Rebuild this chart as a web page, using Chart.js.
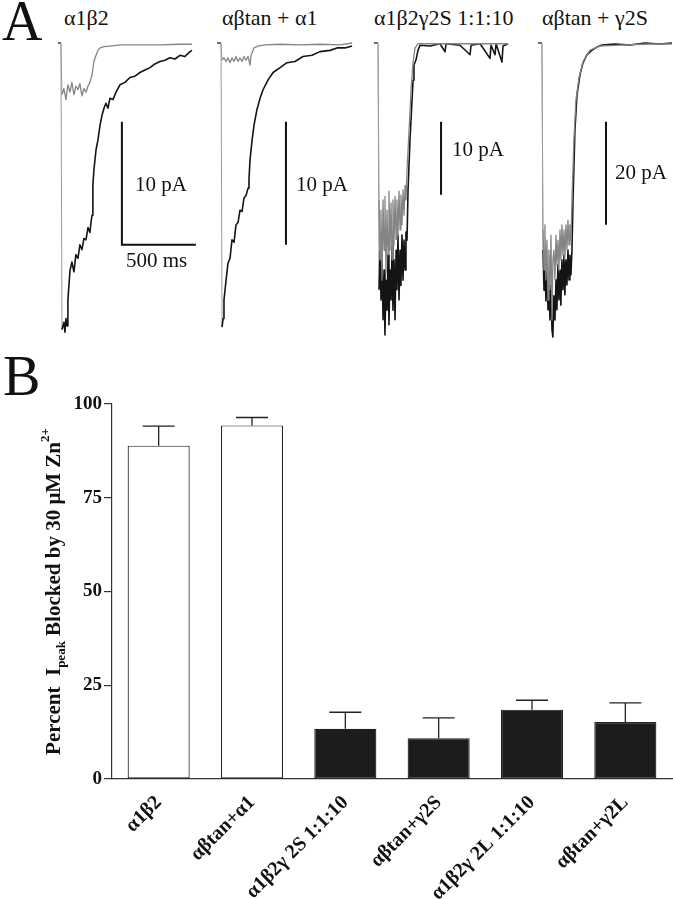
<!DOCTYPE html>
<html>
<head>
<meta charset="utf-8">
<script src="https://cdn.jsdelivr.net/npm/chart.js@4/dist/chart.umd.min.js"></script>
<style>
  body { margin: 0; background: #fff; }
  #page { position: relative; width: 673px; height: 899px; overflow: hidden; background: #fff; }
  #page canvas { position: absolute; }
  .lbl { position: absolute; font-family: "Liberation Serif", "Times New Roman", serif; color: #111; white-space: nowrap; line-height: 1; }
</style>
</head>
<body>
<div id="page">
  <canvas id="tr1"></canvas>
  <canvas id="tr2"></canvas>
  <canvas id="tr3"></canvas>
  <canvas id="tr4"></canvas>
  <canvas id="bars"></canvas>
</div>
<script>
// ---- panel A: current traces, [time ms, current pA] ----
const trace1Black = [[-20,0],[0,0],[7,-23.3],[20,-22.7],[27,-23.5],[34,-22.4],[41,-23.0],[47,-20.9],[61,-18.5],[74,-17.8],[88,-18.6],[101,-17.2],[115,-17.5],[128,-16.4],[142,-16.8],[155,-15.9],[169,-16.0],[183,-15.0],[196,-15.4],[203,-14.6],[210,-14.0],[216,-11.5],[223,-10.3],[237,-8.7],[250,-7.9],[264,-6.7],[277,-5.9],[291,-5.3],[304,-4.9],[318,-5.3],[331,-4.5],[352,-4.6],[372,-4.0],[399,-3.4],[433,-3.2],[466,-2.8],[500,-2.7],[534,-2.4],[568,-2.2],[602,-2.0],[635,-1.7],[669,-1.5],[703,-1.4],[737,-1.2],[771,-1.3],[804,-1.0],[838,-1.1],[872,-0.7],[886,-0.6]];
const trace1Gray = [[-20,0],[0,0],[7,-4.2],[20,-3.7],[34,-4.6],[47,-3.4],[61,-4.0],[74,-3.2],[88,-4.2],[101,-3.5],[115,-3.8],[128,-3.3],[142,-4.3],[155,-3.7],[169,-4.0],[183,-3.5],[196,-3.2],[210,-2.6],[223,-1.5],[237,-1.0],[250,-0.6],[264,-0.4],[291,-0.3],[331,-0.25],[399,-0.15],[534,-0.15],[669,-0.15],[804,-0.1],[886,-0.1]];

const trace2Black = [[-27,0],[0,0],[7,-23.1],[14,-22.4],[20,-20.9],[27,-20.1],[34,-19.3],[47,-17.9],[61,-17.5],[74,-16.0],[88,-16.2],[101,-14.8],[115,-14.6],[128,-13.6],[142,-13.7],[155,-12.6],[169,-12.4],[183,-11.8],[189,-11.1],[196,-9.5],[210,-7.9],[223,-6.7],[243,-5.4],[264,-4.5],[284,-3.8],[318,-3.0],[352,-2.4],[399,-2.0],[446,-1.6],[500,-1.5],[554,-1.1],[615,-1.0],[669,-0.7],[737,-0.6],[784,-0.4],[838,-0.4],[886,-0.25]];
const trace2Gray = [[-27,0],[0,0],[7,-1.4],[20,-1.2],[34,-1.5],[47,-1.2],[61,-1.6],[74,-1.2],[88,-1.5],[101,-1.1],[115,-1.5],[128,-1.2],[142,-1.5],[155,-1.1],[169,-1.4],[183,-1.1],[196,-1.8],[203,-1.0],[223,-0.4],[250,-0.25],[297,-0.15],[399,-0.1],[534,-0.15],[669,-0.1],[804,-0.15],[886,0]];

const trace3Black = [[-27,0],[0,0],[7,-33.8],[14,-28.4],[20,-35.2],[27,-29.7],[34,-37.9],[41,-31.1],[47,-40.0],[54,-32.5],[61,-36.6],[68,-29.0],[74,-38.6],[81,-31.1],[88,-35.2],[95,-27.7],[101,-36.6],[108,-29.7],[115,-37.9],[122,-28.4],[128,-33.8],[135,-26.3],[142,-35.2],[149,-28.4],[155,-33.2],[162,-26.3],[169,-32.5],[176,-27.0],[183,-31.1],[189,-25.9],[196,-27.0],[203,-20.1],[216,-13.3],[230,-7.8],[237,-5.1],[243,-3.0],[257,-2.3],[270,-1.0],[284,-0.3],[352,-0.4],[419,-0.1],[453,-1.2],[460,-0.1],[554,-0.3],[622,-1.6],[629,-0.3],[690,-0.1],[757,-2.1],[764,-0.3],[791,-1.6],[798,-0.1],[838,-2.6],[845,-0.4],[879,-0.1]];
const trace3Gray = [[-27,0],[0,0],[7,-21.5],[14,-29.7],[20,-22.9],[27,-32.5],[34,-21.5],[41,-28.4],[47,-21.0],[54,-31.5],[61,-22.9],[68,-29.0],[74,-20.3],[81,-28.4],[88,-21.9],[95,-29.7],[101,-21.5],[108,-27.7],[115,-21.0],[122,-26.9],[128,-21.5],[135,-26.3],[142,-20.3],[149,-25.6],[155,-20.8],[162,-24.9],[169,-20.1],[176,-23.6],[183,-19.5],[189,-21.5],[196,-17.4],[210,-11.9],[223,-6.4],[237,-2.6],[250,-0.7],[270,-0.1],[419,-0.1],[622,-0.1],[879,-0.1]];

const trace4Black = [[-27,0],[0,0],[7,-40.2],[14,-48.0],[20,-42.1],[27,-50.1],[34,-44.0],[41,-51.8],[47,-45.0],[54,-53.8],[61,-47.0],[68,-55.7],[74,-57.1],[81,-49.1],[88,-53.8],[95,-46.0],[101,-51.8],[108,-43.1],[115,-49.9],[122,-44.1],[128,-50.9],[135,-42.1],[142,-47.9],[149,-41.2],[155,-48.9],[162,-42.1],[169,-47.0],[176,-40.2],[183,-46.0],[189,-41.2],[196,-45.0],[203,-40.2],[210,-30.5],[223,-16.9],[237,-10.1],[257,-6.2],[277,-3.9],[304,-2.3],[338,-1.4],[372,-0.8],[406,-0.4],[494,-0.2],[595,-0.4],[697,0],[798,-0.2],[879,0]];
const trace4Gray = [[-27,0],[0,0],[7,-36.3],[14,-44.1],[20,-35.3],[27,-46.0],[34,-38.3],[41,-49.9],[47,-40.2],[54,-47.9],[61,-37.3],[68,-53.8],[74,-42.1],[81,-40.2],[88,-46.0],[95,-37.3],[101,-43.1],[108,-38.3],[115,-44.1],[122,-36.3],[128,-42.1],[135,-35.3],[142,-41.2],[149,-36.3],[155,-42.1],[162,-35.3],[169,-40.2],[176,-34.4],[183,-39.2],[189,-35.3],[196,-38.3],[203,-30.5],[216,-18.8],[230,-11.1],[250,-6.8],[277,-3.7],[325,-1.4],[392,-0.6],[527,-0.4],[730,-0.2],[879,-0.2]];

const traceTitles = ['α1β2', 'αβtan + α1', 'α1β2γ2S 1:1:10', 'αβtan + γ2S'];
const scaleBarPA = [10, 10, 10, 20];

// ---- panel B: bar chart ----
const groups = ['α1β2', 'αβtan+α1', 'α1β2γ 2S 1:1:10', 'αβtan+γ2S', 'α1β2γ 2L 1:1:10', 'αβtan+γ2L'];
const blocked = [88.9, 94.3, 13.4, 10.9, 18.5, 15.2];
const blockedErr = [5.2, 2.1, 4.4, 5.4, 2.5, 5.1];
const yTicks = [0, 25, 50, 75, 100];

const serif = '"Liberation Serif", "Times New Roman", serif';
const page = document.getElementById('page');

function addLabel(text, left, baseline, size, bold) {
  const d = document.createElement('div');
  d.className = 'lbl';
  d.textContent = text;
  d.style.fontSize = size + 'px';
  if (bold) d.style.fontWeight = 'bold';
  d.style.left = left + 'px';
  d.style.top = (baseline - 0.84 * size) + 'px';
  page.appendChild(d);
}

function placeCanvas(id, left, top, w, h) {
  const c = document.getElementById(id);
  c.width = w; c.height = h;
  c.style.left = left + 'px'; c.style.top = top + 'px';
  c.style.width = w + 'px'; c.style.height = h + 'px';
  return c;
}

// one small chart per recording, axes hidden, scale bar drawn as a dataset
function drawTrace(id, box, xr, yr, black, gray, bar) {
  const c = placeCanvas(id, box[0], box[1], box[2], box[3]);
  const barPts = [[bar.t, bar.top], [bar.t, bar.top - bar.pA]];
  if (bar.ms) barPts.push([bar.t + bar.ms, bar.top - bar.pA]);
  const onset = {
    borderColor: ctx => ctx.p0DataIndex === 1 ? '#9a9a9a' : undefined,
    borderWidth: ctx => ctx.p0DataIndex === 1 ? 1 : undefined
  };
  return new Chart(c, {
    type: 'line',
    data: {
      datasets: [
        { data: gray, borderColor: '#858585', borderWidth: 1.3, order: 0, segment: onset },
        { data: black, borderColor: '#141414', borderWidth: 1.6, order: 1, segment: onset },
        { data: barPts, borderColor: '#111', borderWidth: 2, order: 2, borderCapStyle: 'butt', borderJoinStyle: 'miter' }
      ]
    },
    options: {
      responsive: false, animation: false, events: [],
      layout: { padding: 0 },
      elements: { point: { radius: 0 }, line: { tension: 0, borderJoinStyle: 'round' } },
      plugins: { legend: { display: false }, tooltip: { enabled: false } },
      scales: {
        x: { type: 'linear', min: xr[0], max: xr[1], display: false },
        y: { type: 'linear', min: yr[0], max: yr[1], display: false }
      }
    }
  });
}

drawTrace('tr1', [50, 35, 150, 310], [-74, 940], [-24.55, 0.65], trace1Black, trace1Gray,
  { t: 412, top: -6.4, pA: scaleBarPA[0], ms: 500 });
drawTrace('tr2', [208, 35, 150, 310], [-88, 926], [-24.55, 0.65], trace2Black, trace2Gray,
  { t: 439, top: -6.4, pA: scaleBarPA[1] });
drawTrace('tr3', [365, 35, 150, 310], [-88, 926], [-41.37, 1.1], trace3Black, trace3Gray,
  { t: 426, top: -10.8, pA: scaleBarPA[2] });
drawTrace('tr4', [527, 35, 146, 310], [-101, 886], [-58.64, 1.55], trace4Black, trace4Gray,
  { t: 433, top: -15.3, pA: scaleBarPA[3] });

addLabel('A', 2, 40, 56, false);
addLabel(traceTitles[0], 64, 25, 22);
addLabel(traceTitles[1], 222, 25, 22);
addLabel(traceTitles[2], 374, 25, 22);
addLabel(traceTitles[3], 542, 25, 22);
addLabel(scaleBarPA[0] + ' pA', 135, 192, 21);
addLabel('500 ms', 126, 268, 21);
addLabel(scaleBarPA[1] + ' pA', 296, 192, 21);
addLabel(scaleBarPA[2] + ' pA', 452, 157, 21);
addLabel(scaleBarPA[3] + ' pA', 615, 180, 21);
addLabel('B', 3, 395, 56, false);

// error bars (upper only) and the y title with sub/superscript
const errorBars = {
  id: 'errorBars',
  afterDatasetsDraw(chart) {
    const ctx = chart.ctx, y = chart.scales.y;
    ctx.save();
    ctx.strokeStyle = '#222';
    ctx.lineWidth = 1.3;
    chart.getDatasetMeta(0).data.forEach((bar, i) => {
      const top = y.getPixelForValue(blocked[i] + blockedErr[i]);
      ctx.beginPath();
      ctx.moveTo(bar.x, bar.y);
      ctx.lineTo(bar.x, top);
      ctx.moveTo(bar.x - 16, top);
      ctx.lineTo(bar.x + 16, top);
      ctx.stroke();
    });
    ctx.restore();
  }
};

const yTitle = {
  id: 'yTitle',
  afterDraw(chart) {
    const ctx = chart.ctx, a = chart.chartArea;
    const parts = [
      { t: 'Percent  I', s: 21, dy: 0 },
      { t: 'peak', s: 13, dy: 5 },
      { t: ' Blocked by 30 μM Zn', s: 21, dy: 0 },
      { t: '2+', s: 13, dy: -11 }
    ];
    ctx.save();
    ctx.fillStyle = '#111';
    ctx.textBaseline = 'alphabetic';
    let total = 0;
    parts.forEach(p => { ctx.font = 'bold ' + p.s + 'px ' + serif; p.w = ctx.measureText(p.t).width; total += p.w; });
    ctx.translate(60, (a.top + a.bottom) / 2);
    ctx.rotate(-Math.PI / 2);
    let x = -total / 2;
    parts.forEach(p => {
      ctx.font = 'bold ' + p.s + 'px ' + serif;
      ctx.fillText(p.t, x, p.dy);
      x += p.w;
    });
    ctx.restore();
  }
};

const barCanvas = placeCanvas('bars', 0, 340, 673, 559);
new Chart(barCanvas, {
  type: 'bar',
  data: {
    labels: groups,
    datasets: [{
      data: blocked,
      backgroundColor: blocked.map((v, i) => i < 2 ? '#ffffff' : '#1c1c1c'),
      borderColor: '#222',
      borderWidth: 1.2,
      borderSkipped: false,
      barPercentage: 0.665,
      categoryPercentage: 1
    }]
  },
  options: {
    responsive: false, animation: false, events: [],
    layout: { padding: { top: 64, right: 1, left: 0, bottom: 0 } },
    plugins: { legend: { display: false }, tooltip: { enabled: false } },
    scales: {
      x: {
        grid: { display: false },
        border: { display: true, color: '#333', width: 1.2 },
        ticks: { font: { family: serif, weight: 'bold', size: 20 }, color: '#111', minRotation: 45, maxRotation: 45, padding: 4 },
        afterFit: s => { s.height = 120; }
      },
      y: {
        min: yTicks[0], max: yTicks[yTicks.length - 1],
        afterBuildTicks: s => { s.ticks = yTicks.map(v => ({ value: v })); },
        ticks: { font: { family: serif, weight: 'bold', size: 19 }, color: '#111', padding: 2 },
        grid: { drawOnChartArea: false, drawTicks: true, tickLength: 8, color: '#333', lineWidth: 1.2 },
        border: { color: '#333', width: 1.2 },
        afterFit: s => { s.width = 112; }
      }
    }
  },
  plugins: [errorBars, yTitle]
});
</script>
</body>
</html>
